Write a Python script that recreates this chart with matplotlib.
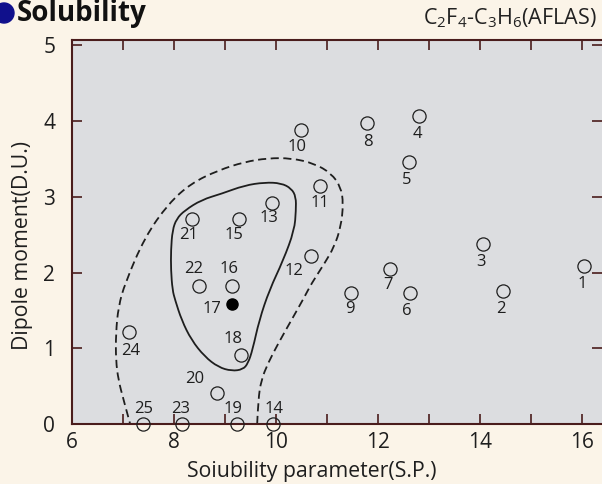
import matplotlib
matplotlib.use("Agg")
import matplotlib.pyplot as plt
from matplotlib.patches import Ellipse, PathPatch
from matplotlib.path import Path
import numpy as np

plt.rcParams['font.family'] = ['Open Sans', 'DejaVu Sans']
plt.rcParams['mathtext.fontset'] = 'custom'
plt.rcParams['mathtext.rm'] = 'Open Sans'

# polymer / solvent points (S.P., D.U.)
labels = [str(i) for i in range(1, 26)]
sp = [16.03, 14.44, 14.06, 12.81, 12.61, 12.62, 12.24, 11.78, 11.46, 10.49,
      10.86, 10.69, 9.92, 9.95, 9.27, 9.14, 9.13, 9.32, 9.24, 8.84,
      8.36, 8.49, 8.16, 7.12, 7.40]
du = [2.08, 1.75, 2.38, 4.07, 3.46, 1.73, 2.04, 3.97, 1.73, 3.88,
      3.14, 2.22, 2.92, 0.0, 2.71, 1.82, 1.58, 0.91, 0.0, 0.41,
      2.71, 1.82, 0.0, 1.21, 0.0]
filled = '17'

# solubility boundaries
solid_x = [7.97, 7.94, 7.94, 7.97, 8.02, 8.15, 8.34, 8.60, 8.87, 9.13, 9.35, 9.45,
           9.54, 9.67, 9.87, 10.14, 10.36, 10.39, 10.39, 10.30, 10.10, 9.78,
           9.38, 8.93, 8.54, 8.21, 8.05]
solid_y = [2.56, 2.30, 2.03, 1.77, 1.64, 1.37, 1.11, 0.89, 0.75, 0.70, 0.72, 0.80,
           0.98, 1.37, 1.77, 2.16, 2.56, 2.82, 3.00, 3.11, 3.18, 3.19,
           3.15, 3.04, 2.96, 2.82, 2.71]
dash_x = [9.63, 9.65, 9.71, 9.84, 10.04, 10.30, 10.56, 10.69, 10.95, 11.14, 11.27,
          11.32, 11.27, 11.08, 10.75, 10.30, 9.84, 9.38, 8.87, 8.34, 7.89, 7.43,
          7.04, 6.91, 6.86, 6.86, 6.91, 7.01, 7.14]
dash_y = [0.0, 0.32, 0.58, 0.80, 1.06, 1.37, 1.68, 1.85, 2.12, 2.34, 2.60,
          2.91, 3.13, 3.31, 3.44, 3.51, 3.51, 3.46, 3.35, 3.18, 2.91, 2.47,
          1.86, 1.55, 1.20, 0.84, 0.58, 0.32, 0.0]

# label offsets in pixels (dx, dy up)
offsets = {'1': (-1, -18), '2': (-2, -18), '3': (-2, -18), '4': (-2, -18),
           '5': (-2, -18), '6': (-3, -18), '7': (-2, -16), '8': (1, -19),
           '9': (-1, -16), '10': (-4, -17), '11': (0, -17), '12': (-17, -15),
           '13': (-3, -15), '14': (1, 15), '15': (-5, -16), '16': (-3, 17),
           '17': (-20, -5), '18': (-8, 16), '19': (-4, 15), '20': (-22, 14),
           '21': (-4, -16), '22': (-5, 17), '23': (-2, 15), '24': (2, -19),
           '25': (0, 15)}

ink = '#1e1e1e'
spine_col = '#4a1c1c'


def smooth_path(xs, ys, closed=False):
    """quadratic bezier path using the traced points as control points"""
    p = np.column_stack([xs, ys])
    verts, codes = [], []
    if closed:
        n = len(p)
        mids = [(p[i] + p[(i + 1) % n]) / 2 for i in range(n)]
        verts.append(mids[-1])
        codes.append(Path.MOVETO)
        for i in range(n):
            verts += [p[i], mids[i]]
            codes += [Path.CURVE3, Path.CURVE3]
    else:
        verts.append(p[0])
        codes.append(Path.MOVETO)
        for i in range(1, len(p) - 2):
            verts += [p[i], (p[i] + p[i + 1]) / 2]
            codes += [Path.CURVE3, Path.CURVE3]
        verts += [p[-2], p[-1]]
        codes += [Path.CURVE3, Path.CURVE3]
    return Path(verts, codes)


fig = plt.figure(figsize=(6.02, 4.84), dpi=100, facecolor='#fbf4e8')
ax = fig.add_axes([72 / 602, 60 / 484, 530 / 602, 384 / 484])
ax.set_facecolor('#dcdde0')
ax.set_xlim(6, 16.39)
ax.set_ylim(0, 5.07)

ax.add_patch(PathPatch(smooth_path(solid_x, solid_y, closed=True), fill=False,
                       ec=ink, lw=1.3))
ax.add_patch(PathPatch(smooth_path(dash_x, dash_y), fill=False, ec=ink, lw=1.3,
                       ls=(0, (4.5, 2.5))))

for lab, x, y in zip(labels, sp, du):
    if lab == filled:
        ax.plot(x, y, 'o', ms=8, color='black', zorder=5, clip_on=False)
    else:
        ax.plot(x, y, 'o', ms=9.5, mfc='none', mec=ink, mew=0.9, zorder=5, clip_on=False)
    ax.annotate(lab, (x, y), xytext=offsets[lab], textcoords='offset pixels',
                ha='center', va='center', fontsize=12, color=ink)

ax.set_xticks([6, 8, 10, 12, 14, 16])
ax.set_xticks([7, 9, 11, 13, 15], minor=True)
ax.set_yticks([0, 1, 2, 3, 4, 5])
ax.tick_params(which='both', direction='in', length=7, width=1.2, color=spine_col,
               top=True, right=True, labelsize=15, labelcolor=ink)
ax.tick_params(axis='x', pad=6)
ax.tick_params(axis='y', pad=12)
for side in ['left', 'bottom', 'top']:
    ax.spines[side].set_color(spine_col)
    ax.spines[side].set_linewidth(1.5)
ax.spines['right'].set_visible(False)

ax.set_xlabel('Soiubility parameter(S.P.)', fontsize=15.3, color=ink)
ax.xaxis.set_label_coords((312 - 72) / 530, (424 - 461) / 384)
ax.set_ylabel('Dipole moment(D.U.)', fontsize=15.3, color=ink)
ax.yaxis.set_label_coords((33 - 72) / 530, (424 - 246) / 384)

fig.add_artist(Ellipse((4 / 602, 1 - 13 / 484), 20 / 602, 20 / 484,
                       transform=fig.transFigure, color='#10108c'))
fig.text(17 / 602, 1 - 13 / 484, 'Solubility', fontsize=20, fontweight='bold',
         color='#111111', va='center', ha='left')
fig.text(597 / 602, 1 - 18 / 484, r'C$_2$F$_4$-C$_3$H$_6$(AFLAS)', fontsize=15.5,
         color='#222222', va='center', ha='right')

fig.savefig('out.png', dpi=100, facecolor=fig.get_facecolor())
